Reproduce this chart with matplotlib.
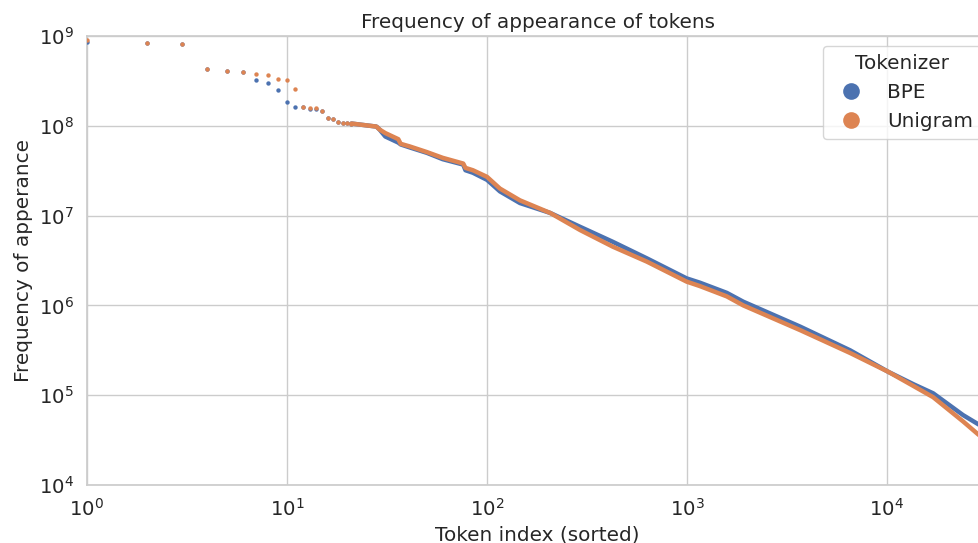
import matplotlib
matplotlib.use("Agg")
import matplotlib.pyplot as plt
import seaborn as sns
from matplotlib.lines import Line2D

sns.set_theme(style="whitegrid", font_scale=1.2)
plt.rcParams['font.family'] = ['DejaVu Sans']

# ---- data (token rank -> frequency) ----
# individual top-ranked tokens
top_ranks = [1, 2, 3, 4, 5, 6, 7, 8, 9, 10, 11, 12, 13, 14, 15, 16, 17, 18, 19, 20, 21]
bpe_top = [8.5e8, 8.4e8, 8.1e8, 4.26e8, 4.1e8, 4.0e8, 3.2e8, 2.97e8, 2.5e8, 1.85e8,
           1.63e8, 1.6e8, 1.55e8, 1.52e8, 1.46e8, 1.22e8, 1.19e8, 1.11e8, 1.07e8, 1.07e8, 1.06e8]
uni_top = [9.1e8, 8.4e8, 8.1e8, 4.26e8, 4.1e8, 4.0e8, 3.8e8, 3.7e8, 3.3e8, 3.24e8,
           2.57e8, 1.63e8, 1.58e8, 1.57e8, 1.46e8, 1.22e8, 1.19e8, 1.11e8, 1.07e8, 1.07e8, 1.06e8]

# dense tail (ranks where points merge into a band)
tail_ranks = [21, 28, 29, 31, 36, 37, 41, 50, 60, 76, 78, 85, 100, 116, 146, 207, 292,
              426, 630, 995, 1160, 1580, 1910, 3680, 6540, 10100, 13600, 17000, 24000,
              28800, 32000]
bpe_tail = [1.06e8, 9.8e7, 9.1e7, 7.6e7, 6.5e7, 6.2e7, 5.75e7, 5.0e7, 4.25e7, 3.7e7,
            3.2e7, 3.0e7, 2.5e7, 1.86e7, 1.38e7, 1.07e7, 7.5e6, 5.1e6, 3.34e6, 2.0e6,
            1.79e6, 1.38e6, 1.1e6, 5.8e5, 3.16e5, 1.83e5, 1.32e5, 1.05e5, 6.0e4, 4.7e4, 4.0e4]
uni_tail = [1.06e8, 9.8e7, 9.1e7, 8.3e7, 7.1e7, 6.3e7, 5.9e7, 5.1e7, 4.4e7, 3.8e7,
            3.4e7, 3.2e7, 2.7e7, 2.0e7, 1.48e7, 1.07e7, 6.9e6, 4.5e6, 3.07e6, 1.84e6,
            1.64e6, 1.26e6, 1.0e6, 5.3e5, 2.95e5, 1.83e5, 1.26e5, 9.5e4, 5.1e4, 3.6e4, 2.8e4]

labels = ["BPE", "Unigram"]
colors = ["#4C72B0", "#DD8452"]

fig = plt.figure(figsize=(9.79, 5.43), dpi=100)
ax = fig.add_axes([87 / 979, 58 / 543, (988.1 - 87) / 979, (485 - 36) / 543])

for ranks_t, vals_t, ranks_d, vals_d, c in [
        (top_ranks, bpe_top, tail_ranks, bpe_tail, colors[0]),
        (top_ranks, uni_top, tail_ranks, uni_tail, colors[1])]:
    ax.plot(ranks_d, vals_d, color=c, lw=3.2, solid_capstyle="round",
            solid_joinstyle="round", zorder=3)
    ax.scatter(ranks_t, vals_t, s=10, color=c, linewidth=0, zorder=3)

ax.set_xscale("log")
ax.set_yscale("log")
ax.set_xlim(1, 32000)
ax.set_ylim(1e4, 1e9)
ax.set_title("Frequency of appearance of tokens", fontsize=14.4)
ax.set_xlabel("Token index (sorted)", fontsize=14.4)
ax.set_ylabel("Frequency of apperance", fontsize=14.4)
ax.tick_params(axis="both", labelsize=14.2)

handles = [Line2D([], [], ls="", marker="o", markersize=12, color=c,
                  markeredgewidth=0) for c in colors]
ax.legend(handles, labels, title="Tokenizer", loc="upper right",
          bbox_to_anchor=(1.003, 1.0), fontsize=14.4, title_fontsize=14.4)

fig.savefig("out.png", dpi=100)
